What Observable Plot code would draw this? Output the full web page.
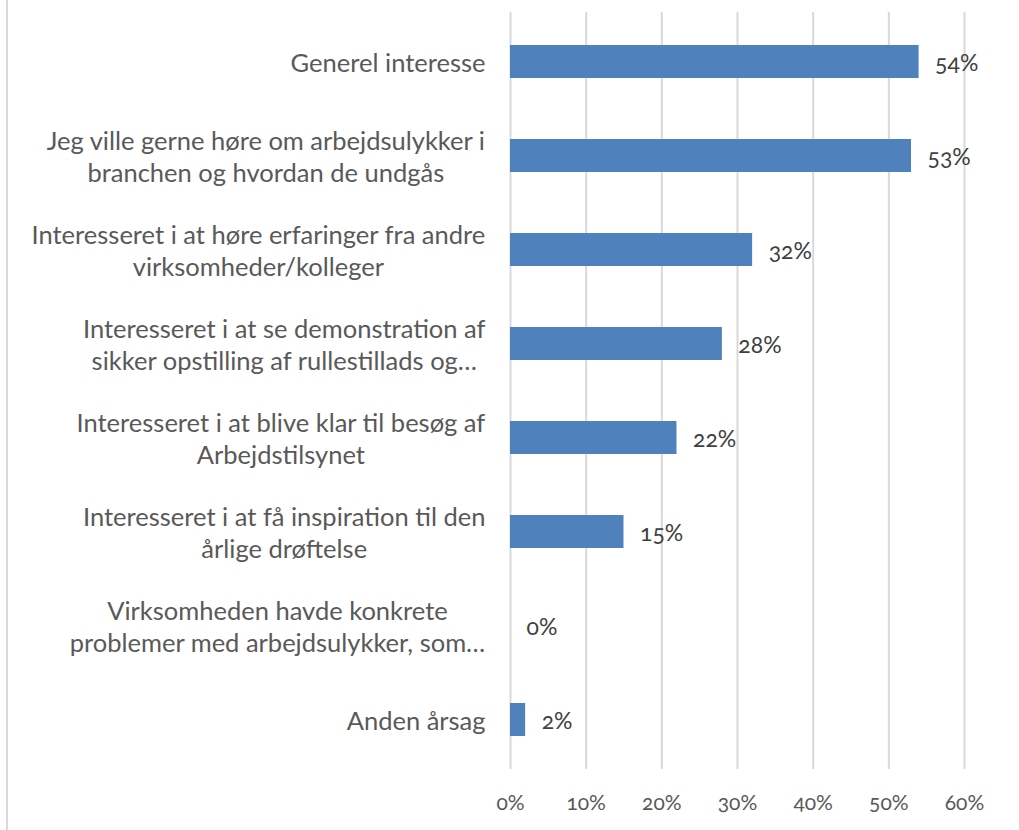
<!DOCTYPE html>
<html><head><meta charset="utf-8">
<script src="https://cdn.jsdelivr.net/npm/d3@7"></script>
<script src="https://cdn.jsdelivr.net/npm/@observablehq/plot@0.6"></script>
<style>
body{margin:0;background:#fff;}
#wrap{position:relative;width:1019px;height:830px;overflow:hidden;}
#border{position:absolute;left:6px;top:0;width:2px;height:830px;background:#d9d9d9;}
#wrap svg{font-variant-numeric:oldstyle-nums;font-feature-settings:"onum" 1;}
</style></head><body><div id="wrap"><div id="border"></div></div>
<script>
const categories = [
  "Generel interesse",
  "Jeg ville gerne høre om arbejdsulykker i\nbranchen og hvordan de undgås",
  "Interesseret i at høre erfaringer fra andre\nvirksomheder/kolleger",
  "Interesseret i at se demonstration af\nsikker opstilling af rullestillads og…",
  "Interesseret i at blive klar til besøg af\nArbejdstilsynet",
  "Interesseret i at få inspiration til den\nårlige drøftelse",
  "Virksomheden havde konkrete\nproblemer med arbejdsulykker, som…",
  "Anden årsag"
];
const values = [0.54, 0.53, 0.32, 0.28, 0.22, 0.15, 0.00, 0.02];
const xTicks = [0, 0.1, 0.2, 0.3, 0.4, 0.5, 0.6];

const data = categories.map((c, i) => ({category: c, value: values[i]}));
const FONT = "Lato, 'Open Sans', sans-serif";
const FS = 25.5;
const ctx = document.createElement("canvas").getContext("2d");
ctx.font = `${FS}px Lato`;
const widthOf = s => Math.max(...s.split("\n").map(l => ctx.measureText(l).width));
const pct = d3.format(".0%");

const labelMarks = data.map(d => Plot.text([d], {
  frameAnchor: "left", y: "category", text: "category",
  textAnchor: "middle", dx: -(25 + widthOf(d.category) / 2),
  lineHeight: 32 / FS, fontSize: FS, fill: "#595959"
}));

const chart = Plot.plot({
  width: 1019, height: 830,
  marginLeft: 510, marginRight: 55, marginTop: 12, marginBottom: 61,
  style: {fontFamily: FONT, background: "transparent"},
  x: {domain: [0, 0.6], axis: null, label: null},
  y: {domain: categories, paddingInner: 0.65, paddingOuter: 0.325, axis: null, label: null},
  marks: [
    Plot.gridX(xTicks, {stroke: "#d9d9d9", strokeOpacity: 1, strokeWidth: 2}),
    Plot.barX(data, {x: "value", y: "category", fill: "#4f81bd"}),
    Plot.text(data, {x: "value", y: "category", text: d => pct(d.value), textAnchor: "start", dx: 16, dy: 2, fontSize: 23, fill: "#404040"}),
    ...labelMarks,
    Plot.axisX(xTicks, {tickFormat: pct, tickSize: 0, tickPadding: 26, fontSize: 21, fill: "#595959", label: null})
  ]
});
document.getElementById("wrap").appendChild(chart);
</script></body></html>
